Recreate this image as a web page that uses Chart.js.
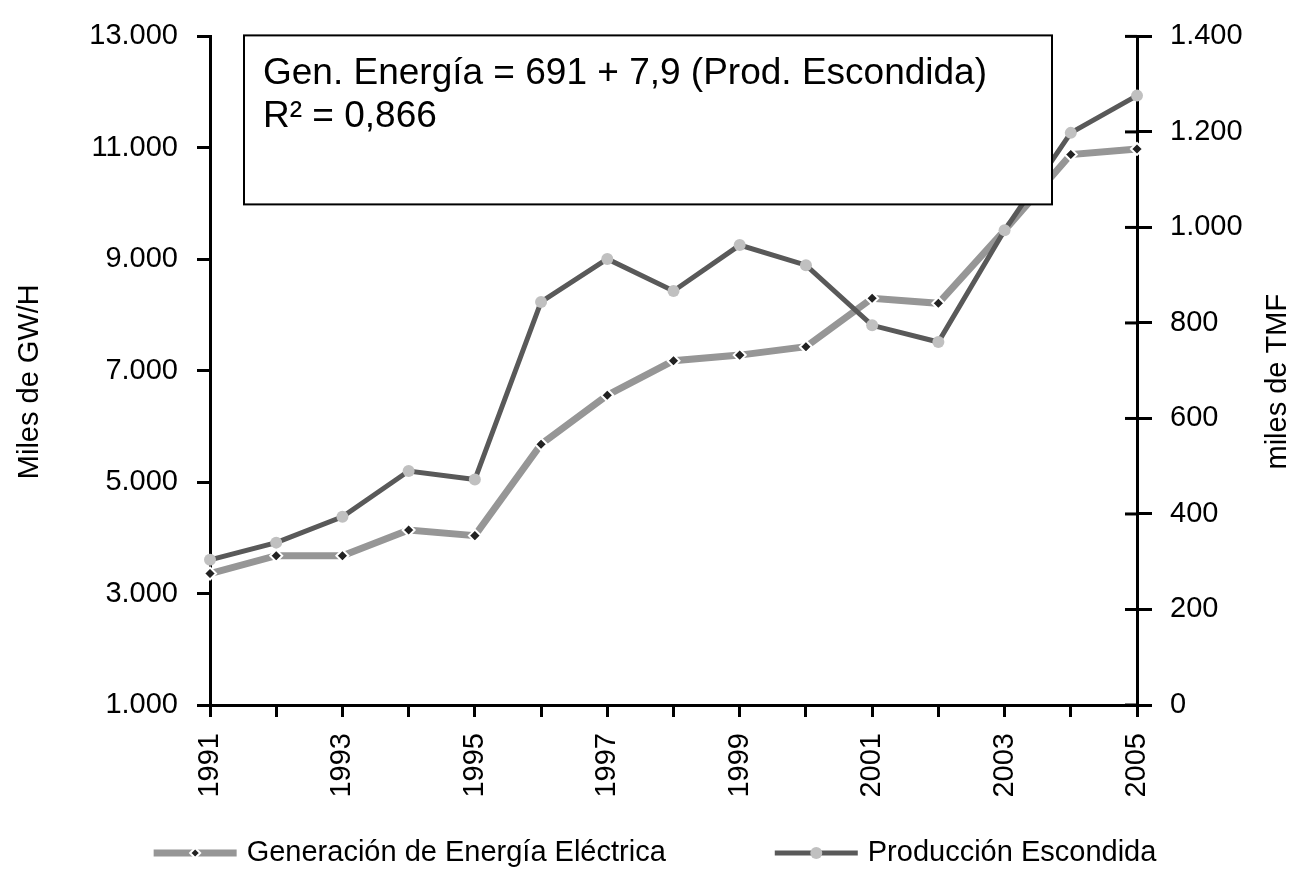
<!DOCTYPE html>
<html>
<head>
<meta charset="utf-8">
<script src="https://cdn.jsdelivr.net/npm/chart.js@4.4.0/dist/chart.umd.min.js"></script>
<style>
  body { margin: 0; background: #fff; }
  canvas { display: block; }
</style>
</head>
<body>
<canvas id="chart" width="1301" height="869"></canvas>
<script>
// chart data
const years = ['1991', '1992', '1993', '1994', '1995', '1996', '1997', '1998',
               '1999', '2000', '2001', '2002', '2003', '2004', '2005'];
const generacion = [3360, 3680, 3680, 4140, 4040, 5680, 6560, 7180, 7280, 7430, 8300, 8210, 9520, 10880, 10980];
const produccion = [304, 340, 394, 490, 472, 844, 934, 867, 963, 921, 795, 760, 994, 1198, 1276];
const seriesNames = ['Generación de Energía Eléctrica', 'Producción Escondida'];
const leftRange = [1000, 13000, 2000];
const rightRange = [0, 1400, 200];
const axisTitles = ['Miles de GW/H', 'miles de TMF'];
const boxLines = ['Gen. Energía = 691 + 7,9 (Prod. Escondida)', 'R\u00B2 = 0,866'];

const FONT = "'Liberation Sans', Arial, sans-serif";
const genColor = '#969696';
const prodColor = '#595959';
const prodPoint = '#c0c0c0';

Chart.defaults.font.family = FONT;
Chart.defaults.color = '#000';

// 13000 -> 13.000
function miles(v) {
    return String(v).replace(/\B(?=(\d{3})+(?!\d))/g, '.');
}

const extras = {
    id: 'extras',
    afterDatasetsDraw(chart) {
        const ctx = chart.ctx;
        const a = chart.chartArea;
        // equation box, it covers the lines
        const bx = a.left + 34, by = a.top - 1, bw = 808, bh = 169;
        ctx.save();
        ctx.fillStyle = '#fff';
        ctx.fillRect(bx, by, bw, bh);
        ctx.strokeStyle = '#000';
        ctx.lineWidth = 2;
        ctx.strokeRect(bx, by, bw, bh);
        ctx.fillStyle = '#000';
        ctx.font = '37px ' + FONT;
        ctx.textBaseline = 'alphabetic';
        ctx.fillText(boxLines[0], bx + 19, by + 49);
        ctx.fillText(boxLines[1], bx + 19, by + 92);
        ctx.restore();
    },
    afterDraw(chart) {
        const ctx = chart.ctx;
        const a = chart.chartArea;
        const r = chart.scales.y1;
        ctx.save();
        // inner half of the right axis ticks
        ctx.strokeStyle = '#000';
        ctx.lineWidth = 3;
        r.ticks.forEach(function (t) {
            const y = r.getPixelForValue(t.value);
            ctx.beginPath();
            ctx.moveTo(a.right - 12, y);
            ctx.lineTo(a.right, y);
            ctx.stroke();
        });

        // axis titles, both read bottom to top
        ctx.fillStyle = '#000';
        ctx.font = '29px ' + FONT;
        ctx.textAlign = 'center';
        ctx.textBaseline = 'middle';
        const midY = (a.top + a.bottom) / 2 + 11;
        [[30, axisTitles[0]], [1278, axisTitles[1]]].forEach(function (p) {
            ctx.save();
            ctx.translate(p[0], midY);
            ctx.rotate(-Math.PI / 2);
            ctx.fillText(p[1], 0, 0);
            ctx.restore();
        });

        // legend
        ctx.font = '29px ' + FONT;
        ctx.textAlign = 'left';
        const sample = 83, gapText = 10, gapItems = 109, ly = 853;
        const w0 = ctx.measureText(seriesNames[0]).width;
        const w1 = ctx.measureText(seriesNames[1]).width;
        const total = sample * 2 + gapText * 2 + w0 + w1 + gapItems;
        let x = 655 - total / 2;
        // generacion
        ctx.strokeStyle = genColor;
        ctx.lineWidth = 7;
        ctx.beginPath();
        ctx.moveTo(x, ly);
        ctx.lineTo(x + sample, ly);
        ctx.stroke();
        drawDiamond(ctx, x + sample / 2, ly);
        ctx.fillStyle = '#000';
        ctx.fillText(seriesNames[0], x + sample + gapText, ly);
        x += sample + gapText + w0 + gapItems;
        // produccion
        ctx.strokeStyle = prodColor;
        ctx.lineWidth = 5;
        ctx.beginPath();
        ctx.moveTo(x, ly);
        ctx.lineTo(x + sample, ly);
        ctx.stroke();
        ctx.fillStyle = prodPoint;
        ctx.beginPath();
        ctx.arc(x + sample / 2, ly, 6, 0, Math.PI * 2);
        ctx.fill();
        ctx.fillStyle = '#000';
        ctx.fillText(seriesNames[1], x + sample + gapText, ly);
        ctx.restore();
    }
};

function drawDiamond(ctx, x, y) {
    ctx.save();
    ctx.fillStyle = '#222';
    ctx.strokeStyle = '#fff';
    ctx.lineWidth = 2;
    ctx.beginPath();
    ctx.moveTo(x, y - 5);
    ctx.lineTo(x + 5, y);
    ctx.lineTo(x, y + 5);
    ctx.lineTo(x - 5, y);
    ctx.closePath();
    ctx.fill();
    ctx.stroke();
    ctx.restore();
}

const chart = new Chart(document.getElementById('chart'), {
    type: 'line',
    data: {
        labels: years,
        datasets: [{
            label: seriesNames[0],
            data: generacion,
            yAxisID: 'y',
            order: 2,
            borderColor: genColor,
            borderWidth: 7,
            pointStyle: 'rectRot',
            pointRadius: 6,
            pointBackgroundColor: '#222',
            pointBorderColor: '#fff',
            pointBorderWidth: 2,
            tension: 0
        }, {
            label: seriesNames[1],
            data: produccion,
            yAxisID: 'y1',
            order: 1,
            borderColor: prodColor,
            borderWidth: 5,
            pointStyle: 'circle',
            pointRadius: 6,
            pointBackgroundColor: prodPoint,
            pointBorderWidth: 0,
            tension: 0
        }]
    },
    options: {
        responsive: false,
        animation: false,
        devicePixelRatio: 1,
        layout: { padding: { top: 33, left: 0, right: 0, bottom: 64 } },
        plugins: {
            legend: { display: false },
            tooltip: { enabled: false }
        },
        scales: {
            x: {
                offset: false,
                border: { display: true, color: '#000', width: 3 },
                grid: { drawOnChartArea: false, drawTicks: true, tickLength: 12, color: '#000', lineWidth: 3 },
                ticks: {
                    autoSkip: false,
                    maxRotation: 90,
                    minRotation: 90,
                    padding: 16,
                    font: { size: 29 },
                    callback: function (v, i) { return i % 2 === 0 ? years[i] : ''; }
                },
                afterFit: function (s) { s.height = 100; }
            },
            y: {
                position: 'left',
                min: leftRange[0],
                max: leftRange[1],
                border: { display: true, color: '#000', width: 3 },
                grid: { drawOnChartArea: false, drawTicks: true, tickLength: 13, color: '#000', lineWidth: 3 },
                ticks: {
                    stepSize: leftRange[2],
                    padding: 19,
                    font: { size: 29 },
                    callback: function (v) { return miles(v); }
                },
                afterFit: function (s) { s.width = 210; }
            },
            y1: {
                position: 'right',
                min: rightRange[0],
                max: rightRange[1],
                border: { display: true, color: '#000', width: 3 },
                grid: { drawOnChartArea: false, drawTicks: true, tickLength: 15, color: '#000', lineWidth: 3 },
                ticks: {
                    stepSize: rightRange[2],
                    padding: 18,
                    font: { size: 29 },
                    callback: function (v) { return miles(v); }
                },
                afterFit: function (s) { s.width = 164; }
            }
        }
    },
    plugins: [extras]
});
</script>
</body>
</html>
